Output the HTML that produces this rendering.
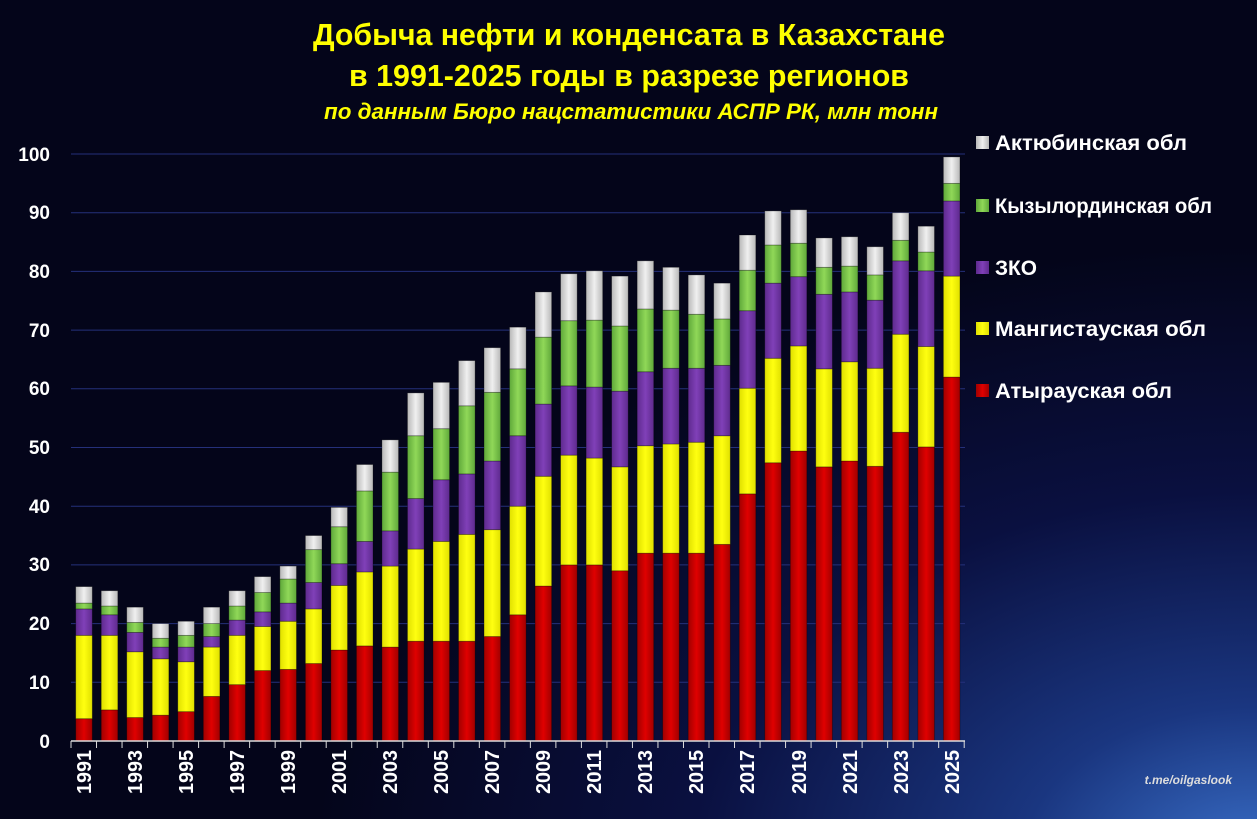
<!DOCTYPE html>
<html><head><meta charset="utf-8">
<style>
html,body{margin:0;padding:0;background:#04051a;}
svg{display:block}
text{font-family:"Liberation Sans Narrow","Liberation Sans",sans-serif;font-weight:bold}
</style></head>
<body>
<svg id="s" width="1257" height="819" viewBox="0 0 1257 819" xmlns="http://www.w3.org/2000/svg">
<defs>
<radialGradient id="bg" cx="1.0" cy="1.05" r="0.75">
<stop offset="0" stop-color="#3a6fc8"/>
<stop offset="0.25" stop-color="#1a3680"/>
<stop offset="0.6" stop-color="#0a1040"/>
<stop offset="1" stop-color="#04051a"/>
</radialGradient>
<linearGradient id="gr" x1="0" x2="1"><stop offset="0" stop-color="#a00000"/><stop offset="0.5" stop-color="#e00000"/><stop offset="1" stop-color="#a00000"/></linearGradient>
<linearGradient id="gy" x1="0" x2="1"><stop offset="0" stop-color="#e0e000"/><stop offset="0.5" stop-color="#ffff10"/><stop offset="1" stop-color="#e0e000"/></linearGradient>
<linearGradient id="gp" x1="0" x2="1"><stop offset="0" stop-color="#5e2a8e"/><stop offset="0.5" stop-color="#8040b8"/><stop offset="1" stop-color="#5e2a8e"/></linearGradient>
<linearGradient id="gg" x1="0" x2="1"><stop offset="0" stop-color="#5fa83a"/><stop offset="0.5" stop-color="#90d858"/><stop offset="1" stop-color="#5fa83a"/></linearGradient>
<linearGradient id="gw" x1="0" x2="1"><stop offset="0" stop-color="#b8b8b8"/><stop offset="0.5" stop-color="#f0f0f0"/><stop offset="1" stop-color="#b8b8b8"/></linearGradient>
</defs>
<rect width="1257" height="819" fill="url(#bg)"/>
<g id="grid"></g>
<g id="bars"></g>
<line x1="71" y1="741" x2="965" y2="741" stroke="#ddd" stroke-width="1.5"/>
<g id="ticks"></g>
<g fill="#fff" font-size="19" text-anchor="end">
<text x="50" y="748">0</text><text x="50" y="689">10</text><text x="50" y="630">20</text><text x="50" y="571">30</text><text x="50" y="513">40</text><text x="50" y="454">50</text><text x="50" y="395">60</text><text x="50" y="337">70</text><text x="50" y="278">80</text><text x="50" y="219">90</text><text x="50" y="161">100</text>
</g>
<g fill="#fff" font-size="20" text-anchor="end">
<text transform="translate(91,750) rotate(-90)" textLength="44" lengthAdjust="spacingAndGlyphs">1991</text>
<text transform="translate(142,750) rotate(-90)" textLength="44" lengthAdjust="spacingAndGlyphs">1993</text>
<text transform="translate(193,750) rotate(-90)" textLength="44" lengthAdjust="spacingAndGlyphs">1995</text>
<text transform="translate(244,750) rotate(-90)" textLength="44" lengthAdjust="spacingAndGlyphs">1997</text>
<text transform="translate(295,750) rotate(-90)" textLength="44" lengthAdjust="spacingAndGlyphs">1999</text>
<text transform="translate(346,750) rotate(-90)" textLength="44" lengthAdjust="spacingAndGlyphs">2001</text>
<text transform="translate(397,750) rotate(-90)" textLength="44" lengthAdjust="spacingAndGlyphs">2003</text>
<text transform="translate(448,750) rotate(-90)" textLength="44" lengthAdjust="spacingAndGlyphs">2005</text>
<text transform="translate(499,750) rotate(-90)" textLength="44" lengthAdjust="spacingAndGlyphs">2007</text>
<text transform="translate(550,750) rotate(-90)" textLength="44" lengthAdjust="spacingAndGlyphs">2009</text>
<text transform="translate(601,750) rotate(-90)" textLength="44" lengthAdjust="spacingAndGlyphs">2011</text>
<text transform="translate(652,750) rotate(-90)" textLength="44" lengthAdjust="spacingAndGlyphs">2013</text>
<text transform="translate(703,750) rotate(-90)" textLength="44" lengthAdjust="spacingAndGlyphs">2015</text>
<text transform="translate(754,750) rotate(-90)" textLength="44" lengthAdjust="spacingAndGlyphs">2017</text>
<text transform="translate(806,750) rotate(-90)" textLength="44" lengthAdjust="spacingAndGlyphs">2019</text>
<text transform="translate(857,750) rotate(-90)" textLength="44" lengthAdjust="spacingAndGlyphs">2021</text>
<text transform="translate(908,750) rotate(-90)" textLength="44" lengthAdjust="spacingAndGlyphs">2023</text>
<text transform="translate(959,750) rotate(-90)" textLength="44" lengthAdjust="spacingAndGlyphs">2025</text>
</g>
<g fill="#ffff00" text-anchor="middle">
<text x="629" y="45" font-size="31" textLength="632" lengthAdjust="spacingAndGlyphs">Добыча нефти и конденсата  в Казахстане</text>
<text x="629" y="86" font-size="31" textLength="560" lengthAdjust="spacingAndGlyphs">в 1991-2025  годы в разрезе  регионов</text>
<text x="631" y="119" font-size="22" font-style="italic" textLength="614" lengthAdjust="spacingAndGlyphs">по данным Бюро нацстатистики АСПР РК, млн тонн</text>
</g>
<g font-size="21" fill="#fff">
<rect x="976" y="136" width="13" height="13" fill="url(#gw)"/><text x="995" y="150" textLength="192" lengthAdjust="spacingAndGlyphs">Актюбинская обл</text>
<rect x="976" y="199" width="13" height="13" fill="url(#gg)"/><text x="995" y="213" textLength="217" lengthAdjust="spacingAndGlyphs">Кызылординская обл</text>
<rect x="976" y="261" width="13" height="13" fill="url(#gp)"/><text x="995" y="275" textLength="42" lengthAdjust="spacingAndGlyphs">ЗКО</text>
<rect x="976" y="322" width="13" height="13" fill="url(#gy)"/><text x="995" y="336" textLength="211" lengthAdjust="spacingAndGlyphs">Мангистауская обл</text>
<rect x="976" y="384" width="13" height="13" fill="url(#gr)"/><text x="995" y="398" textLength="177" lengthAdjust="spacingAndGlyphs">Атырауская обл</text>
</g>
<text x="1232" y="784" fill="#ddd" font-size="12" font-style="italic" text-anchor="end">t.me/oilgaslook</text>
</svg>
<script>
const d=[[3.8,18,22.5,23.5,26.3],[5.3,18,21.5,23,25.6],[4,15.2,18.5,20.2,22.8],[4.4,14,16,17.5,20],[5,13.5,16,18,20.4],[7.6,16,17.8,20,22.8],[9.6,18,20.6,23,25.6],[12,19.5,22,25.3,28],[12.2,20.4,23.5,27.6,29.8],[13.2,22.5,27,32.6,35],[15.5,26.5,30.2,36.5,39.8],[16.2,28.8,34,42.6,47.1],[16,29.8,35.8,45.8,51.3],[17,32.7,41.3,52,59.3],[17,34,44.5,53.2,61.1],[17,35.2,45.5,57.1,64.8],[17.8,36,47.7,59.4,67],[21.5,40,52,63.4,70.5],[26.4,45.1,57.4,68.8,76.5],[30,48.7,60.5,71.6,79.6],[30,48.2,60.3,71.7,80.1],[29,46.7,59.6,70.7,79.2],[32,50.3,62.9,73.6,81.8],[32,50.6,63.5,73.4,80.7],[32,50.9,63.5,72.7,79.4],[33.5,52,64,71.9,78],[42.1,60.1,73.3,80.2,86.2],[47.4,65.2,78,84.5,90.3],[49.4,67.3,79.1,84.8,90.5],[46.7,63.4,76.1,80.7,85.7],[47.7,64.6,76.5,80.9,85.9],[46.8,63.5,75.1,79.4,84.2],[52.6,69.3,81.8,85.3,90],[50.1,67.2,80.1,83.3,87.7],[62,79.2,92,95,99.5]];
const ns="http://www.w3.org/2000/svg",Y=v=>741-v*5.87;
function el(p,t,a){const e=document.createElementNS(ns,t);for(const k in a)e.setAttribute(k,a[k]);document.getElementById(p).appendChild(e);}
for(let i=1;i<=10;i++)el("grid","line",{x1:71,x2:965,y1:Y(i*10),y2:Y(i*10),stroke:"#25307a","stroke-width":1});
for(let k=0;k<=35;k++){const x=71+25.52*k;el("ticks","line",{x1:x,x2:x,y1:741,y2:748,stroke:"#ddd","stroke-width":1});}
const f=["url(#gr)","url(#gy)","url(#gp)","url(#gg)","url(#gw)"];
d.forEach((r,i)=>{const cx=84+25.52*i;let prev=0;r.forEach((v,j)=>{el("bars","rect",{x:cx-8.3,y:Y(v),width:16.6,height:Y(prev)-Y(v),fill:f[j],stroke:"rgba(0,0,0,0.35)","stroke-width":0.8});prev=v;});});
</script>
</body></html>
